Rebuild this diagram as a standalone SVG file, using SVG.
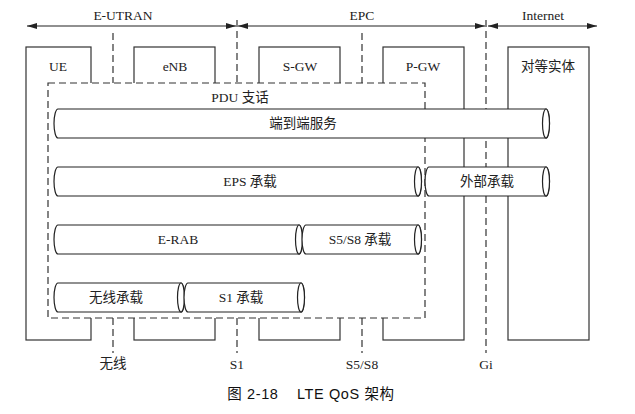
<svg xmlns="http://www.w3.org/2000/svg" width="635" height="414" viewBox="0 0 635 414">
<defs>
<marker id="ah" viewBox="0 0 10 6" refX="10" refY="3" markerWidth="10" markerHeight="6" markerUnits="userSpaceOnUse" orient="auto-start-reverse">
<path d="M0,0 L10,3 L0,6 Z" fill="#222"/>
</marker>
<style>
.t{font-family:"Liberation Serif","Noto Sans CJK SC",serif;font-size:13.5px;fill:#222;text-anchor:middle}
.box{fill:#fff;stroke:#333;stroke-width:1.2}
.dash{fill:none;stroke:#333;stroke-width:1.2;stroke-dasharray:7,4}
.ln{stroke:#222;stroke-width:1.2;fill:none}
.cyl{fill:#fff;stroke:#222;stroke-width:1.2}
.cap{font-family:"Liberation Sans","Noto Sans CJK SC",sans-serif;font-size:14.5px;letter-spacing:0.6px;fill:#111;text-anchor:middle}
</style>
</defs>
<rect width="635" height="414" fill="#fff"/>

<!-- domain arrows -->
<g id="domains">
<line class="ln" x1="27" y1="26" x2="236" y2="26" marker-start="url(#ah)" marker-end="url(#ah)"/>
<line class="ln" x1="238" y1="26" x2="485" y2="26" marker-start="url(#ah)" marker-end="url(#ah)"/>
<line class="ln" x1="488" y1="26" x2="597" y2="26" marker-start="url(#ah)" marker-end="url(#ah)"/>
<text class="t" x="123" y="20">E-UTRAN</text>
<text class="t" x="362" y="20">EPC</text>
<text class="t" x="543" y="20">Internet</text>
</g>

<!-- node boxes -->
<g id="UE"><rect class="box" x="26" y="47" width="65" height="293"/><text class="t" x="58" y="71">UE</text></g>
<g id="eNB"><rect class="box" x="134" y="47" width="81" height="293"/><text class="t" x="175" y="71">eNB</text></g>
<g id="SGW"><rect class="box" x="259" y="47" width="81" height="293"/><text class="t" x="300" y="71">S-GW</text></g>
<g id="PGW"><rect class="box" x="383" y="47" width="81" height="293"/><text class="t" x="423" y="71">P-GW</text></g>
<g id="peer"><rect class="box" x="508" y="47" width="81" height="293"/><text class="t" x="548" y="71">对等实体</text></g>

<!-- interface dashed lines -->
<g id="connectors">
<line class="dash" x1="113" y1="33" x2="113" y2="84"/>
<line class="dash" x1="237" y1="20" x2="237" y2="84"/>
<line class="dash" x1="362" y1="33" x2="362" y2="84"/>
<line class="dash" x1="486" y1="20" x2="486" y2="353"/>
<line class="dash" x1="113" y1="318" x2="113" y2="353"/>
<line class="dash" x1="237" y1="318" x2="237" y2="353"/>
<line class="dash" x1="362" y1="318" x2="362" y2="353"/>
</g>

<!-- PDU session -->
<g id="pdu">
<rect x="48" y="83" width="377" height="235" fill="#fff" stroke="#333" stroke-width="1.2" stroke-dasharray="7,4"/>
<text class="t" x="240" y="102">PDU 支话</text>
</g>

<!-- bearers -->
<g id="e2e">
<path class="cyl" d="M58,109 L546,109 A3.5,14.5 0 0 1 546,138 L58,138 A4,14.5 0 0 1 58,109 Z"/>
<ellipse class="cyl" cx="546" cy="123.5" rx="3.5" ry="14.5"/>
<text class="t" x="303" y="128">端到端服务</text>
</g>
<g id="eps">
<path class="cyl" d="M58,167 L418,167 A3.5,14.5 0 0 1 418,196 L58,196 A4,14.5 0 0 1 58,167 Z"/>
<ellipse class="cyl" cx="418" cy="181.5" rx="3.5" ry="14.5"/>
<text class="t" x="250" y="186">EPS 承载</text>
</g>
<g id="ext">
<path class="cyl" d="M429,167 L546,167 A3.5,14.5 0 0 1 546,196 L429,196 A4,14.5 0 0 1 429,167 Z"/>
<ellipse class="cyl" cx="546" cy="181.5" rx="3.5" ry="14.5"/>
<text class="t" x="487" y="186">外部承载</text>
</g>
<g id="erab">
<path class="cyl" d="M58,225 L299,225 A3.5,14.5 0 0 1 299,254 L58,254 A4,14.5 0 0 1 58,225 Z"/>
<ellipse class="cyl" cx="299" cy="239.5" rx="3.5" ry="14.5"/>
<text class="t" x="178" y="244">E-RAB</text>
</g>
<g id="s5s8">
<path class="cyl" d="M306,225 L418,225 A3.5,14.5 0 0 1 418,254 L306,254 A4,14.5 0 0 1 306,225 Z"/>
<ellipse class="cyl" cx="418" cy="239.5" rx="3.5" ry="14.5"/>
<text class="t" x="360" y="244">S5/S8 承载</text>
</g>
<g id="radio">
<path class="cyl" d="M58,283 L181,283 A3.5,14.5 0 0 1 181,312 L58,312 A4,14.5 0 0 1 58,283 Z"/>
<ellipse class="cyl" cx="181" cy="297.5" rx="3.5" ry="14.5"/>
<text class="t" x="116" y="302">无线承载</text>
</g>
<g id="s1">
<path class="cyl" d="M188,283 L301,283 A3.5,14.5 0 0 1 301,312 L188,312 A4,14.5 0 0 1 188,283 Z"/>
<ellipse class="cyl" cx="301" cy="297.5" rx="3.5" ry="14.5"/>
<text class="t" x="241" y="302">S1 承载</text>
</g>

<!-- interface labels -->
<g id="labels">
<text class="t" x="113" y="368">无线</text>
<text class="t" x="237" y="369">S1</text>
<text class="t" x="362" y="369">S5/S8</text>
<text class="t" x="486" y="369">Gi</text>
</g>

<text class="cap" x="311" y="399" xml:space="preserve">图 2-18    LTE QoS 架构</text>
</svg>
